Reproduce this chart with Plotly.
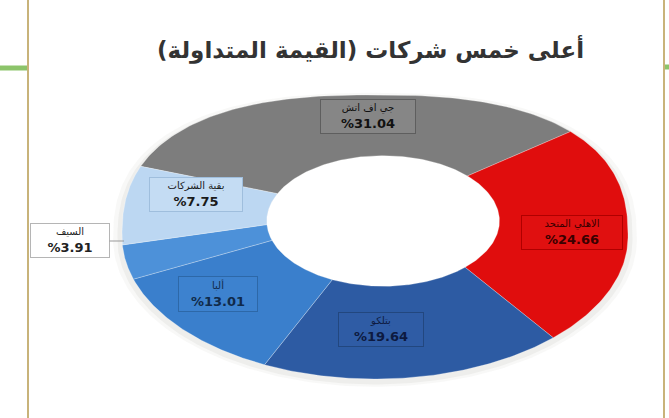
import numpy as np
import plotly.graph_objects as go

# ---- data ----
companies = ["جي اف اتش", "الاهلي المتحد", "بتلكو", "ألبا", "السيف", "بقية الشركات"]
shares = [31.04, 24.66, 19.64, 13.01, 3.91, 7.75]
pct_labels = ["%31.04", "%24.66", "%19.64", "%13.01", "%3.91", "%7.75"]
colors = ["#7d7d7d", "#e00d0d", "#2d5ba3", "#3a7fcc", "#4d91d9", "#bcd7f2"]
title_text = "أعلى خمس شركات (القيمة المتداولة)"

W, H = 669, 418
# ring geometry (pixels) -> axis ranges so the unit ring maps to the tilted ring
CX, CY, RX, RY = 375, 237, 253, 142
HOLE_R = 0.46
HOLE_DX, HOLE_DY = 0.032, 0.113
N_TOP = 2.5   # superellipse exponent for the upper half (flatter top, perspective look)
START = -65.3  # clockwise from top, degrees


def ring_xy(theta, r=1.0, dx=0.0, dy=0.0, top=N_TOP):
    c, s = np.cos(theta), np.sin(theta)
    p = np.where(s > 0, 2.0 / top, 1.0)
    u = np.sign(c) * np.abs(c) ** p
    v = np.sign(s) * np.abs(s) ** p
    return dx + r * u, dy + r * v


fig = go.Figure()

t = np.linspace(0, 2 * np.pi, 300)
# soft shadow
for k, a in [(1.035, 0.05), (1.018, 0.07)]:
    sx, sy = ring_xy(t, k)
    fig.add_trace(go.Scatter(x=sx, y=sy - 0.02, mode="lines", fill="toself",
                             fillcolor=f"rgba(120,110,100,{a})", line=dict(width=0),
                             hoverinfo="skip", showlegend=False))
# white hole
fig.add_trace(go.Scatter(x=HOLE_DX + HOLE_R * np.cos(t), y=HOLE_DY + HOLE_R * np.sin(t),
                         mode="lines", fill="toself", fillcolor="white",
                         line=dict(width=0), hoverinfo="skip", showlegend=False))

total = sum(shares)
a0 = START
for name, v, c in zip(companies, shares, colors):
    a1 = a0 + v / total * 360.0
    th = np.radians(90 - np.linspace(a0, a1, 100))
    xo, yo = ring_xy(th)
    xi = HOLE_DX + HOLE_R * np.cos(th[::-1])
    yi = HOLE_DY + HOLE_R * np.sin(th[::-1])
    fig.add_trace(go.Scatter(x=np.concatenate([xo, xi, xo[:1]]),
                             y=np.concatenate([yo, yi, yo[:1]]),
                             mode="lines", fill="toself", fillcolor=c,
                             line=dict(color="rgba(255,255,255,0.35)", width=0.8),
                             name=name, hoverinfo="name", showlegend=False))
    a0 = a1


def P(px, py):
    return px / W, 1 - py / H


# label boxes (pixel centers in reference image)
label_pos = [(368, 116), (572, 232), (381, 329), (218, 294), None, (196, 194)]
box_w = [90, 96, 80, 74, 74, 88]
box_bg = ["#868686", "#e01010", "#2f5ca5", "#3d82cf", "#ffffff", "#c4dcf3"]
box_bd = ["#5e5e5e", "#b00000", "#22477f", "#2d68a8", "#b5b5b5", "#9fbedd"]
txt_col = ["#111111", "#3a0000", "#0d1a40", "#102a4a", "#222222", "#1a1a1a"]

annotations = []
for i, (name, pct) in enumerate(zip(companies, pct_labels)):
    text = (f"<span style='font-size:10px'>{name}</span><br>"
            f"<b>{pct}</b>")
    common = dict(xref="paper", yref="paper", text=text, xanchor="center", yanchor="middle",
                  bgcolor=box_bg[i], bordercolor=box_bd[i], borderwidth=1, borderpad=2,
                  width=box_w[i], align="center",
                  font=dict(size=13, color=txt_col[i], family="DejaVu Sans"))
    if label_pos[i] is None:
        x, y = P(124, 241)
        annotations.append(dict(x=x, y=y, showarrow=True, arrowhead=0, arrowwidth=1,
                                arrowcolor="#999999", ax=-54, ay=0, **common))
    else:
        x, y = P(*label_pos[i])
        annotations.append(dict(x=x, y=y, showarrow=False, **common))

tx, ty = P(370, 49)
annotations.append(dict(x=tx, y=ty, xref="paper", yref="paper", text=f"<b>{title_text}</b>",
                        xanchor="center", yanchor="middle", showarrow=False,
                        font=dict(size=23, color="#333333", family="DejaVu Sans")))


def hline(x0, x1, y, color, w):
    return dict(type="line", xref="paper", yref="paper", x0=x0 / W, x1=x1 / W,
                y0=1 - y / H, y1=1 - y / H, line=dict(color=color, width=w))


def vline(x, color, w):
    return dict(type="line", xref="paper", yref="paper", x0=x / W, x1=x / W,
                y0=0, y1=1, line=dict(color=color, width=w))


shapes = [
    vline(28, "#c8b37a", 2),
    vline(664, "#c8b37a", 2),
    hline(0, 27, 68, "#8cc46a", 5),
    hline(665, 669, 67, "#8cc46a", 5),
]

fig.update_layout(
    width=W, height=H, margin=dict(l=0, r=0, t=0, b=0),
    paper_bgcolor="white", plot_bgcolor="white",
    xaxis=dict(range=[(0 - CX) / RX, (W - CX) / RX], visible=False, fixedrange=True),
    yaxis=dict(range=[(CY - H) / RY, CY / RY], visible=False, fixedrange=True),
    annotations=annotations, shapes=shapes, showlegend=False,
    font=dict(family="DejaVu Sans"),
)

fig.write_html("out.html", config={"displayModeBar": False},
               post_script="document.body.style.margin='0';document.body.style.overflow='hidden';")
